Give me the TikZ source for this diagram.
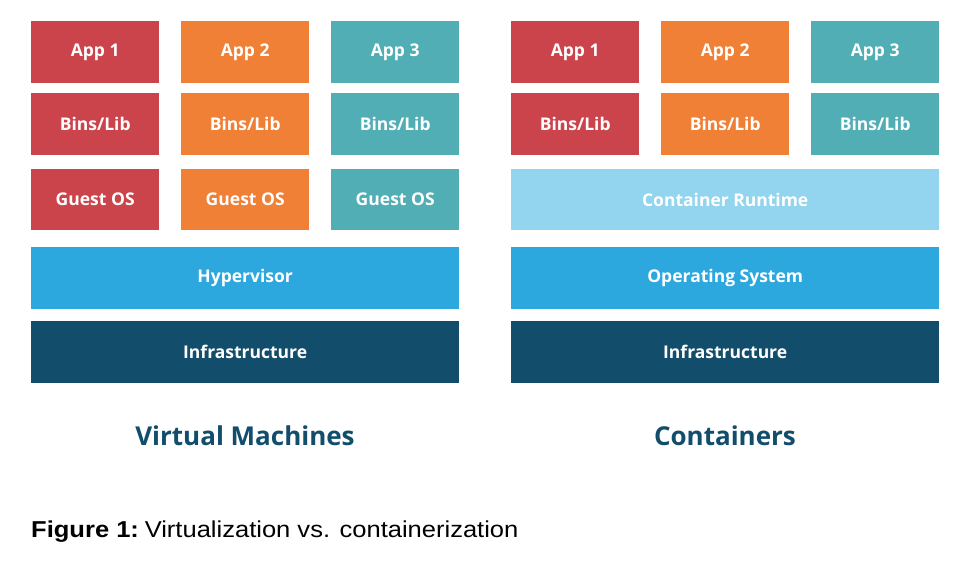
\documentclass[tikz,border=0pt]{standalone}
\usepackage{fontspec}
\setmainfont{Open Sans}
\newfontfamily\capfont[FakeStretch=1.11]{Liberation Sans}
\definecolor{cred}{HTML}{CC444B}
\definecolor{corange}{HTML}{F08035}
\definecolor{cteal}{HTML}{52AEB5}
\definecolor{clight}{HTML}{93D4EE}
\definecolor{cblue}{HTML}{2CA8DF}
\definecolor{cdark}{HTML}{124E6C}
\tikzset{
  layer/.style={draw=none, minimum height=62pt, inner sep=0pt, text=white,
    font=\fontsize{17.5}{20}\selectfont\bfseries, anchor=north west},
  small/.style={layer, minimum width=128pt},
  wide/.style={layer, minimum width=428pt},
  heading/.style={text=cdark, inner sep=0pt, anchor=base, font=\fontsize{26}{30}\selectfont\bfseries}
}
\begin{document}
\begin{tikzpicture}[x=1pt,y=-1pt]
\useasboundingbox (0,0) rectangle (978,564);
\fill[white] (0,0) rectangle (978,564);
% Virtual machines
\node[small, fill=cred]    (vapp1) at (31,21) {App 1};
\node[small, fill=corange] (vapp2) at (181,21) {App 2};
\node[small, fill=cteal]   (vapp3) at (331,21) {App 3};
\node[small, fill=cred]    (vbin1) at (31,93) {Bins/Lib};
\node[small, fill=corange] (vbin2) at (181,93) {Bins/Lib};
\node[small, fill=cteal]   (vbin3) at (331,93) {Bins/Lib};
\node[small, fill=cred, minimum height=61pt]    (vos1) at (31,169) {Guest OS};
\node[small, fill=corange, minimum height=61pt] (vos2) at (181,169) {Guest OS};
\node[small, fill=cteal, minimum height=61pt]   (vos3) at (331,169) {Guest OS};
\node[wide, fill=cblue] (hyp) at (31,247) {Hypervisor};
\node[wide, fill=cdark] (vinf) at (31,321) {Infrastructure};
% Containers
\node[small, fill=cred]    (capp1) at (511,21) {App 1};
\node[small, fill=corange] (capp2) at (661,21) {App 2};
\node[small, fill=cteal]   (capp3) at (811,21) {App 3};
\node[small, fill=cred]    (cbin1) at (511,93) {Bins/Lib};
\node[small, fill=corange] (cbin2) at (661,93) {Bins/Lib};
\node[small, fill=cteal]   (cbin3) at (811,93) {Bins/Lib};
\node[wide, fill=clight, minimum height=61pt] (crt) at (511,169) {Container Runtime};
\node[wide, fill=cblue] (cos) at (511,247) {Operating System};
\node[wide, fill=cdark] (cinf) at (511,321) {Infrastructure};
% headings
\node[heading] (vm) at (245,445) {Virtual Machines};
\node[heading] (ct) at (725,445) {Containers};
% caption
\node[anchor=base west, inner sep=0pt, font=\capfont\fontsize{23}{27}\selectfont] (cap) at (31,537) {\textbf{Figure 1:}\hspace{0.25em}Virtualization vs. containerization};
\end{tikzpicture}
\end{document}
